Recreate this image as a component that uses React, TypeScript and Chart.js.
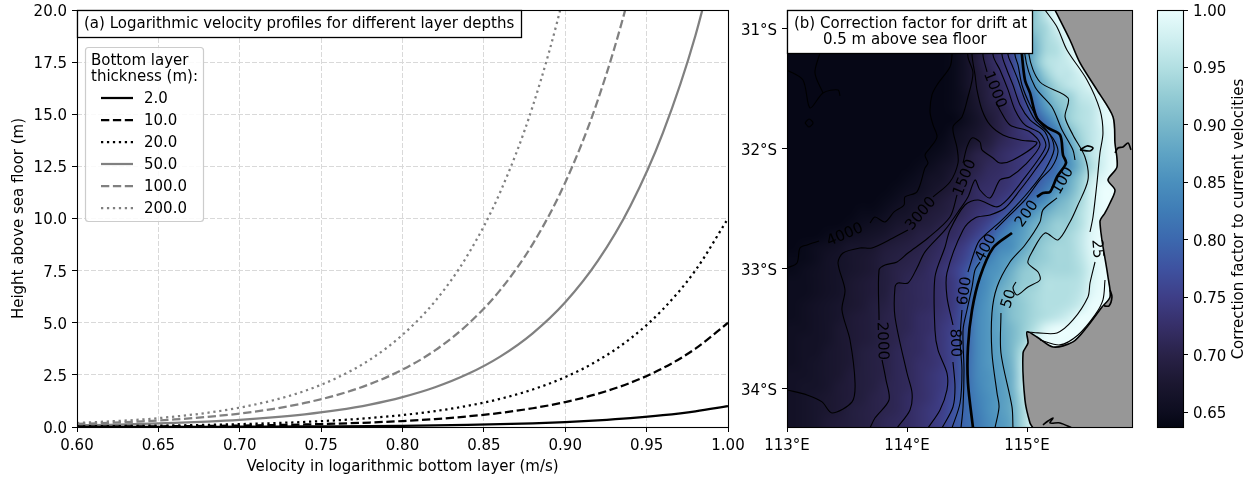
import React, { useEffect, useRef } from "react";
import { Chart, registerables } from "chart.js";

Chart.register(...registerables);

const FONT = '"DejaVu Sans"';
const FS = 15;

// ---------- panel (a) ----------
const velocity = [0.6, 0.62, 0.64, 0.66, 0.68, 0.7, 0.72, 0.74, 0.76, 0.78, 0.8, 0.82, 0.84, 0.86, 0.88, 0.9, 0.92, 0.94, 0.96, 0.98, 1.0];
const h2 = [0.0033, 0.0043, 0.0058, 0.0077, 0.0103, 0.0137, 0.0183, 0.0243, 0.0323, 0.043, 0.0573, 0.0762, 0.1015, 0.1351, 0.1798, 0.2393, 0.3186, 0.424, 0.5644, 0.7513, 1.0];
const h10 = [0.0165, 0.0215, 0.029, 0.0385, 0.0515, 0.0685, 0.0915, 0.1215, 0.1615, 0.215, 0.2865, 0.381, 0.5075, 0.6755, 0.899, 1.1965, 1.593, 2.12, 2.822, 3.7565, 5.0];
const h20 = [0.033, 0.043, 0.058, 0.077, 0.103, 0.137, 0.183, 0.243, 0.323, 0.43, 0.573, 0.762, 1.015, 1.351, 1.798, 2.393, 3.186, 4.24, 5.644, 7.513, 10.0];
const h50 = [0.0825, 0.1075, 0.145, 0.1925, 0.2575, 0.3425, 0.4575, 0.6075, 0.8075, 1.075, 1.4325, 1.905, 2.5375, 3.3775, 4.495, 5.9825, 7.965, 10.6, 14.11, 18.78, 25.0];
const h100 = [0.15, 0.2, 0.27, 0.36, 0.485, 0.645, 0.86, 1.155, 1.54, 2.06, 2.75, 3.675, 4.915, 6.565, 8.775, 11.73, 15.675, 20.95, 27.995, 37.415, 50.0];
const h200 = [0.19, 0.27, 0.36, 0.5, 0.68, 0.93, 1.27, 1.73, 2.37, 3.23, 4.42, 6.03, 8.24, 11.26, 15.38, 21.01, 28.71, 39.22, 53.58, 73.2, 100.0];
const layerNames = ["2.0", "10.0", "20.0", "50.0", "100.0", "200.0"];
const layerValues = [h2, h10, h20, h50, h100, h200];
const layerColors = ["#000000", "#000000", "#000000", "#808080", "#808080", "#808080"];
const layerDashes = [[], [8.3, 3.6], [2.25, 3.7], [], [8.3, 3.6], [2.25, 3.7]];
const velocityTicks = [0.6, 0.65, 0.7, 0.75, 0.8, 0.85, 0.9, 0.95, 1.0];
const heightTicks = [0, 2.5, 5, 7.5, 10, 12.5, 15, 17.5, 20];

// ---------- panel (b) ----------
const lonTicks = [113, 114, 115];
const latTicks = [-31, -32, -33, -34];
const lonRange = [113, 115.875];
const latRange = [-34.317, -30.842];
const lonCells = 30;
const factorGrid = [
  [.64,.64,.64,.64,.64,.64,.64,.64,.64,.64,.64,.64,.64,.64,.645,.66,.68,.71,.73,.76,.88,.92,.96,1,1,1,1,1,1,1],
  [.64,.64,.64,.64,.64,.64,.64,.64,.64,.64,.64,.64,.64,.64,.645,.66,.68,.71,.73,.76,.88,.92,.94,.98,1,1,1,1,1,1],
  [.64,.64,.64,.64,.64,.64,.64,.64,.64,.64,.64,.64,.64,.64,.645,.66,.68,.71,.73,.76,.85,.90,.94,.96,.99,1,1,1,1,1],
  [.64,.64,.64,.64,.64,.64,.64,.64,.64,.64,.64,.64,.64,.64,.645,.66,.68,.71,.73,.76,.83,.89,.94,.95,.98,1,1,1,1,1],
  [.64,.64,.64,.64,.64,.64,.64,.64,.64,.64,.64,.64,.64,.64,.645,.66,.685,.71,.73,.755,.82,.90,.95,.96,.97,1,1,1,1,1],
  [.64,.64,.64,.64,.64,.64,.64,.64,.64,.64,.64,.64,.64,.64,.645,.66,.68,.70,.725,.75,.80,.87,.93,.96,.96,.98,1,1,1,1],
  [.64,.64,.64,.64,.64,.64,.64,.64,.64,.64,.64,.64,.64,.64,.645,.66,.68,.695,.715,.74,.79,.85,.90,.94,.96,.97,.99,1,1,1],
  [.64,.64,.64,.64,.64,.64,.64,.64,.64,.64,.64,.64,.64,.64,.645,.655,.675,.695,.71,.73,.76,.82,.88,.92,.93,.96,.97,1,1,1],
  [.64,.64,.64,.64,.64,.64,.64,.64,.64,.64,.64,.64,.64,.64,.645,.655,.67,.69,.70,.72,.75,.80,.86,.90,.93,.95,.96,.99,1,1],
  [.64,.64,.64,.64,.64,.64,.64,.64,.64,.64,.64,.64,.64,.64,.64,.65,.665,.68,.70,.715,.735,.77,.82,.87,.93,.95,.96,.99,1,1],
  [.64,.64,.64,.64,.64,.64,.64,.64,.64,.64,.64,.64,.64,.64,.65,.66,.67,.685,.70,.72,.735,.75,.79,.83,.90,.94,.96,.98,1,1],
  [.64,.64,.64,.64,.64,.64,.64,.64,.64,.64,.64,.64,.64,.645,.655,.665,.68,.69,.71,.72,.73,.74,.77,.80,.87,.93,.96,.98,1,1],
  [.64,.64,.64,.64,.64,.64,.64,.64,.64,.64,.64,.64,.645,.65,.66,.68,.70,.705,.72,.73,.74,.75,.77,.80,.86,.91,.96,.98,1,1],
  [.64,.64,.64,.64,.64,.64,.64,.64,.64,.64,.64,.645,.65,.66,.67,.69,.70,.715,.72,.73,.74,.76,.78,.81,.85,.90,.95,.98,1,1],
  [.64,.64,.64,.64,.64,.64,.64,.64,.64,.64,.645,.65,.66,.665,.68,.695,.71,.72,.725,.735,.75,.77,.80,.82,.88,.92,.97,.99,1,1],
  [.64,.64,.64,.64,.64,.64,.64,.64,.64,.645,.65,.655,.665,.675,.685,.70,.72,.725,.73,.74,.76,.79,.82,.86,.89,.93,.98,1,1,1],
  [.64,.64,.64,.64,.64,.64,.64,.64,.645,.65,.66,.665,.675,.685,.695,.71,.72,.73,.74,.76,.79,.82,.85,.89,.91,.94,.98,1,1,1],
  [.64,.64,.64,.64,.64,.64,.645,.645,.65,.66,.665,.675,.685,.69,.70,.715,.73,.74,.76,.79,.82,.86,.89,.91,.92,.95,.98,1,1,1],
  [.64,.64,.64,.64,.64,.645,.65,.655,.66,.67,.675,.685,.69,.70,.715,.725,.74,.76,.79,.83,.86,.89,.91,.93,.93,.95,.985,1,1,1],
  [.64,.64,.64,.645,.65,.655,.66,.665,.67,.68,.685,.695,.70,.715,.72,.735,.755,.78,.82,.85,.87,.90,.92,.93,.94,.96,.99,1,1,1],
  [.64,.645,.65,.655,.66,.67,.67,.675,.685,.69,.695,.70,.71,.72,.735,.75,.78,.80,.84,.85,.88,.91,.93,.94,.94,.96,.99,1,1,1],
  [.645,.645,.65,.66,.665,.67,.675,.68,.69,.695,.70,.705,.715,.725,.74,.76,.79,.83,.855,.87,.90,.92,.93,.94,.94,.955,.985,1,1,1],
  [.645,.65,.655,.66,.665,.67,.675,.68,.69,.70,.705,.71,.72,.735,.75,.775,.82,.85,.86,.89,.92,.93,.94,.94,.94,.95,.98,1,1,1],
  [.65,.65,.655,.66,.665,.675,.68,.685,.69,.70,.71,.715,.72,.73,.745,.775,.825,.85,.875,.90,.925,.93,.95,.95,.95,.955,.985,1,1,1],
  [.65,.65,.655,.66,.665,.675,.68,.685,.69,.705,.71,.715,.72,.73,.745,.775,.83,.855,.89,.91,.93,.94,.95,.95,.95,.96,.99,1,1,1],
  [.65,.655,.66,.665,.67,.675,.68,.69,.695,.705,.71,.715,.72,.73,.745,.78,.835,.86,.885,.91,.925,.94,.95,.95,.955,.97,1,1,1,1],
  [.65,.655,.66,.665,.67,.68,.685,.69,.70,.705,.71,.72,.725,.735,.75,.785,.84,.86,.88,.91,.925,.94,.95,.96,.975,1,1,1,1,1],
  [.655,.655,.66,.665,.675,.68,.685,.69,.70,.705,.71,.72,.725,.74,.755,.785,.84,.86,.88,.90,.925,.95,.985,1,1,1,1,1,1,1],
  [.655,.66,.66,.665,.675,.68,.685,.69,.70,.705,.715,.72,.73,.74,.76,.79,.84,.86,.875,.90,.93,.98,1,1,1,1,1,1,1,1],
  [.655,.66,.66,.67,.675,.68,.69,.695,.70,.71,.715,.72,.73,.74,.76,.79,.84,.86,.875,.90,.95,1,1,1,1,1,1,1,1,1],
  [.655,.66,.665,.67,.675,.68,.69,.695,.70,.71,.715,.725,.73,.74,.76,.795,.84,.86,.87,.895,.96,1,1,1,1,1,1,1,1,1],
  [.66,.66,.665,.67,.675,.685,.69,.695,.70,.71,.715,.725,.735,.745,.76,.795,.84,.855,.87,.89,.96,1,1,1,1,1,1,1,1,1],
  [.66,.665,.665,.67,.68,.685,.69,.695,.705,.71,.715,.725,.735,.745,.765,.80,.835,.855,.865,.89,.96,1,1,1,1,1,1,1,1,1],
  [.66,.665,.67,.675,.68,.685,.69,.70,.705,.71,.72,.725,.735,.75,.77,.80,.83,.85,.865,.885,.95,1,1,1,1,1,1,1,1,1],
  [.66,.665,.67,.675,.68,.69,.695,.70,.705,.71,.72,.73,.74,.75,.775,.80,.825,.85,.865,.885,.94,.99,1,1,1,1,1,1,1,1],
  [.66,.665,.67,.68,.685,.69,.695,.70,.71,.715,.72,.73,.74,.755,.78,.80,.82,.845,.86,.88,.94,.99,1,1,1,1,1,1,1,1],
];

// contour polylines as [lon, lat]
const c5000a = [[113,-31.342],[113.133,-31.425],[113.192,-31.658],[113.3,-31.533],[113.425,-31.508],[113.442,-31.558]];
const c5000b = [[113.275,-31.2],[113.233,-31.367],[113.3,-31.533]];
const c5000c = [[113.15,-31.783],[113.183,-31.75],[113.217,-31.783],[113.183,-31.817],[113.15,-31.783]];
const c4000a = [[113,-32.992],[113.083,-32.95],[113.108,-32.825],[113.167,-32.8],[113.267,-32.767]];
const c4000b = [[113.692,-32.617],[113.733,-32.567],[113.817,-32.608],[113.892,-32.525],[113.975,-32.467],[113.983,-32.4],[114.083,-32.358],[114.15,-32.158],[114.175,-32.117],[114.15,-32.05],[114.192,-31.992],[114.25,-31.9],[114.217,-31.8],[114.192,-31.692],[114.208,-31.55],[114.25,-31.467],[114.358,-31.317],[114.375,-31.217],[114.383,-30.842]];
const c3000a = [[113,-34.008],[113.167,-34.05],[113.292,-34.108],[113.375,-34.2],[113.542,-34.108],[113.567,-33.95],[113.525,-33.592],[113.458,-33.342],[113.483,-33.175],[113.425,-32.95],[113.467,-32.867],[113.608,-32.825],[113.708,-32.825],[113.883,-32.742],[114.008,-32.675]];
const c3000b = [[114.217,-32.4],[114.358,-32.275],[114.425,-32.117],[114.417,-31.992],[114.383,-31.817],[114.458,-31.733],[114.508,-31.567],[114.55,-31.367],[114.508,-31.233],[114.483,-30.842]];
const c2000a = [[113.692,-34.325],[113.733,-34.242],[113.85,-34.092],[113.825,-33.925],[113.792,-33.758]];
const c2000b = [[113.767,-33.425],[113.767,-33.008],[113.817,-32.967],[113.917,-32.942],[114.008,-32.867],[114.175,-32.742],[114.358,-32.567],[114.417,-32.383]];
const c2000c = [[114.467,-32.117],[114.5,-31.983],[114.542,-31.908],[114.608,-31.942],[114.625,-32.008],[114.717,-32.075],[114.775,-32.117],[114.883,-32.092],[115.083,-31.95],[114.942,-31.925],[114.8,-31.883],[114.692,-31.8],[114.625,-31.675],[114.583,-31.508],[114.567,-31.383],[114.542,-31.217],[114.542,-30.842]];
const c1500a = [[113.917,-34.325],[114.025,-34.175],[114.042,-34.033],[114,-33.867],[113.9,-33.4],[113.9,-33.15],[113.925,-33.117],[114.008,-33.117],[114.083,-32.992],[114.15,-32.858],[114.317,-32.675],[114.425,-32.525],[114.508,-32.4],[114.567,-32.258],[114.608,-32.342],[114.692,-32.408],[114.775,-32.258],[114.858,-32.233],[114.983,-32.133],[115.108,-31.967],[115.025,-31.858],[114.858,-31.8],[114.775,-31.675],[114.742,-31.608]];
const c1500b = [[114.667,-31.358],[114.633,-31.217],[114.633,-30.842]];
const c1000 = [[114.175,-34.325],[114.275,-34.175],[114.333,-34.008],[114.333,-33.867],[114.258,-33.675],[114.233,-33.508],[114.233,-33.067],[114.317,-32.817],[114.358,-32.675],[114.483,-32.467],[114.592,-32.425],[114.75,-32.483],[114.833,-32.425],[114.967,-32.258],[115.108,-32.067],[115.158,-31.967],[115.108,-31.867],[114.983,-31.8],[114.9,-31.675],[114.842,-31.508],[114.775,-31.342],[114.717,-31.217],[114.717,-30.842]];
const c800a = [[114.292,-34.325],[114.383,-34.15],[114.4,-33.983],[114.383,-33.775]];
const c800b = [[114.383,-33.467],[114.333,-33.233],[114.333,-33.033],[114.467,-32.675],[114.567,-32.575],[114.692,-32.55],[114.817,-32.492],[114.942,-32.342],[115.067,-32.175],[115.183,-31.992],[115.15,-31.858],[115.025,-31.758],[114.942,-31.633],[114.883,-31.467],[114.833,-31.342],[114.792,-31.217],[114.775,-30.842]];
const c600a = [[114.375,-34.325],[114.442,-34.117],[114.458,-33.842],[114.442,-33.592],[114.458,-33.342]];
const c600b = [[114.508,-33.025],[114.567,-32.842],[114.608,-32.758],[114.775,-32.608],[114.9,-32.483],[115.025,-32.342],[115.15,-32.175],[115.225,-32.008],[115.192,-31.883],[115.067,-31.758],[114.983,-31.592],[114.925,-31.425],[114.875,-31.3],[114.842,-31.217],[114.825,-30.842]];
const c400a = [[114.45,-34.325],[114.467,-34.15],[114.475,-33.842],[114.467,-33.508],[114.5,-33.342],[114.542,-33.15],[114.567,-33.008],[114.608,-32.942]];
const c400b = [[114.733,-32.675],[114.858,-32.55],[114.983,-32.425],[115.108,-32.258],[115.208,-32.15],[115.258,-32.025],[115.225,-31.925],[115.108,-31.775],[115.025,-31.633],[114.958,-31.467],[114.925,-31.3],[114.9,-31.217],[114.875,-30.842]];
const c200a = [[114.925,-30.842],[114.958,-31.217],[114.983,-31.425],[115.025,-31.533],[115.083,-31.742],[115.175,-31.825],[115.275,-31.883],[115.3,-32.05],[115.325,-32.117],[115.25,-32.233],[115.192,-32.358],[115.133,-32.367],[115.083,-32.4]];
const c200b = [[114.875,-32.7],[114.717,-32.825],[114.608,-33.067],[114.542,-33.342],[114.508,-33.65],[114.508,-33.95],[114.55,-34.325]];
const c100a = [[114.983,-30.842],[114.983,-31.217],[115.067,-31.483],[115.208,-31.65],[115.292,-31.842],[115.383,-32.008],[115.4,-32.092]];
const c100b = [[115.25,-32.408],[115.133,-32.508],[115.108,-32.608],[114.983,-32.8],[114.858,-32.942],[114.75,-33.15],[114.708,-33.367],[114.708,-33.7],[114.75,-34.033],[114.767,-34.15],[114.733,-34.325]];
const c50a = [[115.025,-30.842],[115.017,-31.217],[115.108,-31.442],[115.342,-31.575],[115.317,-31.733],[115.383,-31.883],[115.483,-32.067],[115.508,-32.258],[115.417,-32.483],[115.358,-32.608],[115.258,-32.758],[115.15,-32.7],[115.042,-32.858],[115.008,-32.95],[115.092,-33.025],[115.108,-33.092],[115.008,-33.15],[114.917,-33.217],[114.883,-33.158],[114.908,-33.108]];
const c50b = [[114.783,-33.367],[114.783,-33.7],[114.875,-34.15],[114.883,-34.325]];
const c25a = [[115.15,-30.842],[115.25,-30.983],[115.333,-31.175],[115.5,-31.425],[115.608,-31.675],[115.633,-31.867],[115.608,-32.033],[115.583,-32.283],[115.55,-32.567],[115.525,-32.692]];
const c25b = [[115.567,-32.942],[115.525,-33.117],[115.508,-33.233],[115.383,-33.425],[115.25,-33.533],[115.092,-33.533],[115.008,-33.525]];
const c10 = [[115.108,-33.592],[115.275,-33.633],[115.425,-33.55],[115.567,-33.383],[115.633,-33.258],[115.65,-33.092]];
const thinContours = [c5000a,c5000b,c5000c,c4000a,c4000b,c3000a,c3000b,c2000a,c2000b,c2000c,c1500a,c1500b,c1000,c800a,c800b,c600a,c600b,c400a,c400b,c100a,c100b,c50a,c50b,c25a,c25b,c10];
const thickContours = [c200a,c200b];

const coastline = [[115.233,-30.842],[115.358,-31.092],[115.442,-31.283],[115.583,-31.508],[115.717,-31.733],[115.733,-31.95],[115.75,-32.15],[115.675,-32.258],[115.733,-32.342],[115.692,-32.45],[115.65,-32.533],[115.608,-32.608],[115.675,-33.067],[115.692,-33.233],[115.625,-33.317],[115.5,-33.483],[115.383,-33.608],[115.217,-33.65],[115.083,-33.567],[115,-33.525],[115.008,-33.617],[114.967,-33.7],[114.983,-34.092],[115.025,-34.283],[115.05,-34.325]];
const landCorners = [[115.05,-34.4],[115.9,-34.4],[115.9,-30.8],[115.233,-30.8]];
const islandCoast = [[115.442,-32.008],[115.5,-31.975],[115.55,-31.992],[115.525,-32.017],[115.442,-32.008]];
const perthCoast = [[115.733,-32.033],[115.758,-31.992],[115.8,-31.983],[115.842,-31.95],[115.867,-32.008]];
const capeCoast = [[115.133,-34.3],[115.175,-34.267],[115.217,-34.242],[115.192,-34.283],[115.275,-34.283],[115.375,-34.325]];
const bumpCoast = [[115.642,-33.308],[115.683,-33.308],[115.708,-33.233],[115.692,-33.175]];
const coastParts = [coastline, islandCoast, perthCoast, capeCoast, bumpCoast];

// contour labels: text, lon, lat, angle in degrees
const contourLabels: [string, number, number, number][] = [
  ["1000", 114.73, -31.5, 68],
  ["1500", 114.483, -32.233, -68],
  ["3000", 114.117, -32.533, -50],
  ["4000", 113.483, -32.708, -23],
  ["2000", 113.792, -33.592, 88],
  ["800", 114.4, -33.608, 88],
  ["600", 114.483, -33.175, -82],
  ["400", 114.658, -32.817, -62],
  ["200", 115.0, -32.533, -55],
  ["100", 115.3, -32.258, -60],
  ["50", 114.85, -33.242, -72],
  ["25", 115.583, -32.825, 85],
];

// ---------- colour bar ----------
const factorTicks = [0.65, 0.7, 0.75, 0.8, 0.85, 0.9, 0.95, 1.0];
const factorMin = 0.6373;
const factorMax = 1.0;
const iceValues = [0.6373, 0.65, 0.675, 0.7, 0.725, 0.75, 0.775, 0.8, 0.825, 0.85, 0.875, 0.9, 0.925, 0.95, 0.975, 1.0];
const iceColors = [[4,6,19],[13,13,31],[27,23,48],[41,34,72],[54,47,104],[62,62,135],[62,82,160],[60,104,174],[63,124,182],[74,143,189],[94,163,196],[120,183,202],[147,203,212],[178,223,226],[207,239,240],[234,253,253]];

function iceColor(v: number) {
  if (v <= iceValues[0]) return iceColors[0];
  for (let i = 1; i < iceValues.length; i++) {
    if (v <= iceValues[i]) {
      const t = (v - iceValues[i - 1]) / (iceValues[i] - iceValues[i - 1]);
      return iceColors[i].map((c, k) => c + (iceColors[i - 1][k] - c) * (1 - t));
    }
  }
  return iceColors[iceColors.length - 1];
}

function toPts(list: number[][]) {
  return list.map(([x, y]) => ({ x, y }));
}

function frame(chart: any) {
  const { ctx, chartArea: a } = chart;
  ctx.save();
  ctx.strokeStyle = "#000";
  ctx.lineWidth = 1.1;
  ctx.setLineDash([]);
  ctx.strokeRect(Math.round(a.left) + 0.5, Math.round(a.top) + 0.5, Math.round(a.right - a.left), Math.round(a.bottom - a.top));
  ctx.restore();
}

function label(ctx: any, text: string, x: number, y: number, angle = 0, align = "left") {
  ctx.save();
  ctx.translate(x, y + 1);
  ctx.rotate((angle * Math.PI) / 180);
  ctx.font = `${FS}px ${FONT}`;
  ctx.fillStyle = "#000";
  ctx.textAlign = align;
  ctx.textBaseline = "middle";
  ctx.fillText(text, 0, 0);
  ctx.restore();
}

const panelAPlugin = {
  id: "panelA",
  afterDatasetsDraw(chart: any) {
    const { ctx, chartArea: a } = chart;
    frame(chart);
    ctx.save();
    // legend
    ctx.beginPath();
    ctx.roundRect(85.5, 47.5, 118, 174, 3);
    ctx.fillStyle = "rgba(255,255,255,0.85)";
    ctx.fill();
    ctx.strokeStyle = "#cccccc";
    ctx.lineWidth = 1.2;
    ctx.stroke();
    label(ctx, "Bottom layer", 91, 60);
    label(ctx, "thickness (m):", 91, 76.5);
    const rowY = [98, 120, 142, 164, 186, 208];
    chart.data.datasets.forEach((d: any, i: number) => {
      ctx.beginPath();
      ctx.strokeStyle = d.borderColor;
      ctx.lineWidth = d.borderWidth;
      ctx.setLineDash(d.borderDash);
      ctx.moveTo(101, rowY[i]);
      ctx.lineTo(133, rowY[i]);
      ctx.stroke();
      ctx.setLineDash([]);
      label(ctx, d.label, 144, rowY[i]);
    });
    // panel title box
    ctx.fillStyle = "#fff";
    ctx.fillRect(a.left, a.top, 444, 27);
    ctx.strokeStyle = "#000";
    ctx.lineWidth = 1.3;
    ctx.strokeRect(a.left + 0.5, a.top + 0.5, 444, 27);
    label(ctx, "(a) Logarithmic velocity profiles for different layer depths", 84, 23.5);
    ctx.restore();
  },
};

const panelBPlugin = {
  id: "panelB",
  beforeDatasetsDraw(chart: any) {
    const { ctx, chartArea: a, scales } = chart;
    const rows = factorGrid.length;
    const off = document.createElement("canvas");
    off.width = lonCells;
    off.height = rows;
    const oc = off.getContext("2d") as CanvasRenderingContext2D;
    const img = oc.createImageData(lonCells, rows);
    factorGrid.forEach((row, j) =>
      row.forEach((v, i) => {
        const c = iceColor(v);
        const p = (j * lonCells + i) * 4;
        img.data[p] = c[0];
        img.data[p + 1] = c[1];
        img.data[p + 2] = c[2];
        img.data[p + 3] = 255;
      })
    );
    oc.putImageData(img, 0, 0);
    const x0 = scales.x.getPixelForValue(lonRange[0]);
    const x1 = scales.x.getPixelForValue(lonRange[1]);
    const y0 = scales.y.getPixelForValue(latRange[1]);
    const y1 = scales.y.getPixelForValue(latRange[0]);
    ctx.save();
    ctx.beginPath();
    ctx.rect(a.left, a.top, a.right - a.left, a.bottom - a.top);
    ctx.clip();
    ctx.imageSmoothingEnabled = true;
    ctx.imageSmoothingQuality = "high";
    ctx.drawImage(off, x0, y0, x1 - x0, y1 - y0);
    // land
    ctx.beginPath();
    [...coastline, ...landCorners].forEach(([lon, lat], i) => {
      const px = scales.x.getPixelForValue(lon);
      const py = scales.y.getPixelForValue(lat);
      if (i === 0) ctx.moveTo(px, py);
      else ctx.lineTo(px, py);
    });
    ctx.closePath();
    ctx.fillStyle = "#979797";
    ctx.fill();
    ctx.restore();
  },
  afterDatasetsDraw(chart: any) {
    const { ctx, chartArea: a, scales } = chart;
    contourLabels.forEach(([t, lon, lat, ang]) => {
      label(ctx, t, scales.x.getPixelForValue(lon), scales.y.getPixelForValue(lat), ang, "center");
    });
    frame(chart);
    ctx.save();
    ctx.fillStyle = "#fff";
    ctx.fillRect(a.left, a.top, 245, 43);
    ctx.strokeStyle = "#000";
    ctx.lineWidth = 1.3;
    ctx.strokeRect(a.left + 0.5, a.top + 0.5, 245, 43);
    label(ctx, "(b) Correction factor for drift at", a.left + 7, 23);
    label(ctx, "0.5 m above sea floor", a.left + 36, 39.5);
    ctx.restore();
  },
};

const colorbarPlugin = {
  id: "colorbarFrame",
  afterDatasetsDraw(chart: any) {
    frame(chart);
    label(chart.ctx, "Correction factor to current velocities", chart.chartArea.right + 56, 218, -90, "center");
  },
};

function fixedSize(prop: "width" | "height", n: number) {
  return (scale: any) => {
    scale[prop] = n;
    scale.paddingTop = 0;
    scale.paddingBottom = 0;
    scale.paddingLeft = 0;
    scale.paddingRight = 0;
  };
}

function setTicks(values: number[]) {
  return (scale: any) => {
    scale.ticks = values.map((value) => ({ value }));
  };
}

const tickFont = { family: FONT, size: FS };

export default function App() {
  const aRef = useRef<HTMLCanvasElement>(null);
  const bRef = useRef<HTMLCanvasElement>(null);
  const cRef = useRef<HTMLCanvasElement>(null);

  useEffect(() => {
    Chart.defaults.font.family = FONT;
    Chart.defaults.font.size = FS;
    Chart.defaults.color = "#000";

    const chartA = new Chart(aRef.current as any, {
      type: "scatter",
      data: {
        datasets: layerNames.map((name, i) => ({
          label: name,
          data: velocity.map((x, k) => ({ x, y: layerValues[i][k] })),
          showLine: true,
          pointRadius: 0,
          borderColor: layerColors[i],
          borderDash: layerDashes[i],
          borderWidth: 2.25,
          cubicInterpolationMode: "monotone",
        })),
      },
      options: {
        animation: false,
        responsive: false,
        layout: { autoPadding: false, padding: { left: 0, top: 10, right: 22, bottom: 0 } },
        plugins: { legend: { display: false }, tooltip: { enabled: false } },
        scales: {
          x: {
            type: "linear",
            min: 0.6,
            max: 1.0,
            afterFit: fixedSize("height", 50),
            afterBuildTicks: setTicks(velocityTicks),
            grid: { color: "#d9d9d9", lineWidth: 1, tickColor: "#000", tickLength: 5 },
            border: { display: false, dash: [5, 2] },
            ticks: { font: tickFont, padding: 5, maxRotation: 0, autoSkip: false, callback: (v: any) => Number(v).toFixed(2) },
            title: { display: true, text: "Velocity in logarithmic bottom layer (m/s)", font: tickFont, padding: 1 },
          },
          y: {
            type: "linear",
            min: 0,
            max: 20,
            afterFit: fixedSize("width", 77),
            afterBuildTicks: setTicks(heightTicks),
            grid: { color: "#d9d9d9", lineWidth: 1, tickColor: "#000", tickLength: 5 },
            border: { display: false, dash: [5, 2] },
            ticks: { font: tickFont, padding: 5, labelOffset: 2, autoSkip: false, callback: (v: any) => Number(v).toFixed(1) },
            title: { display: true, text: "Height above sea floor (m)", font: tickFont, padding: 10 },
          },
        },
      } as any,
      plugins: [panelAPlugin],
    } as any);

    const lineSet = (pts: number[][], width: number) => ({
      data: toPts(pts),
      showLine: true,
      pointRadius: 0,
      borderColor: "#000",
      borderWidth: width,
      tension: 0.3,
    });

    const chartB = new Chart(bRef.current as any, {
      type: "scatter",
      data: {
        datasets: [
          ...thinContours.map((c) => lineSet(c, 1.1)),
          ...thickContours.map((c) => lineSet(c, 2.7)),
          ...coastParts.map((c) => lineSet(c, 1.6)),
        ],
      },
      options: {
        animation: false,
        responsive: false,
        layout: { autoPadding: false, padding: { left: 0, top: 10, right: 18, bottom: 0 } },
        plugins: { legend: { display: false }, tooltip: { enabled: false } },
        scales: {
          x: {
            type: "linear",
            min: lonRange[0],
            max: lonRange[1],
            afterFit: fixedSize("height", 50),
            afterBuildTicks: setTicks(lonTicks),
            grid: { drawOnChartArea: false, tickColor: "#000", tickLength: 5 },
            border: { display: false },
            ticks: { font: tickFont, padding: 5, maxRotation: 0, autoSkip: false, callback: (v: any) => `${v}°E` },
          },
          y: {
            type: "linear",
            min: latRange[0],
            max: latRange[1],
            afterFit: fixedSize("width", 47),
            afterBuildTicks: setTicks(latTicks),
            grid: { drawOnChartArea: false, tickColor: "#000", tickLength: 5 },
            border: { display: false },
            ticks: { font: tickFont, padding: 5, labelOffset: 2, autoSkip: false, callback: (v: any) => `${Math.abs(v)}°S` },
          },
        },
      } as any,
      plugins: [panelBPlugin],
    } as any);

    const chartC = new Chart(cRef.current as any, {
      type: "bar",
      data: {
        labels: ["factor"],
        datasets: [
          {
            data: [[factorMin, factorMax]],
            barPercentage: 1,
            categoryPercentage: 1,
            backgroundColor: (ctx: any) => {
              const { chart } = ctx;
              if (!chart.chartArea) return "#000";
              const yS = chart.scales.y;
              const g = chart.ctx.createLinearGradient(0, yS.getPixelForValue(factorMin), 0, yS.getPixelForValue(factorMax));
              iceValues.forEach((v, i) => {
                const c = iceColors[i];
                g.addColorStop((v - factorMin) / (factorMax - factorMin), `rgb(${c[0]},${c[1]},${c[2]})`);
              });
              return g;
            },
          },
        ],
      },
      options: {
        animation: false,
        responsive: false,
        layout: { autoPadding: false, padding: { left: 7, top: 10, right: 0, bottom: 50 } },
        plugins: { legend: { display: false }, tooltip: { enabled: false } },
        scales: {
          x: { display: false },
          y: {
            position: "right",
            min: factorMin,
            max: factorMax,
            afterFit: fixedSize("width", 72),
            afterBuildTicks: setTicks(factorTicks),
            grid: { drawOnChartArea: false, tickColor: "#000", tickLength: 5 },
            border: { display: false },
            ticks: { font: tickFont, padding: 5, labelOffset: 2, autoSkip: false, callback: (v: any) => Number(v).toFixed(2) },
          },
        },
      } as any,
      plugins: [colorbarPlugin],
    } as any);

    return () => {
      chartA.destroy();
      chartB.destroy();
      chartC.destroy();
    };
  }, []);

  const abs = (left: number, width: number): React.CSSProperties => ({ position: "absolute", left, top: 0, width, height: 477 });
  return (
    <div style={{ position: "absolute", left: 0, top: 0, width: 1255, height: 477, background: "#fff", overflow: "hidden" }}>
      <canvas ref={aRef} width={750} height={477} style={abs(0, 750)} />
      <canvas ref={bRef} width={410} height={477} style={abs(740, 410)} />
      <canvas ref={cRef} width={105} height={477} style={abs(1150, 105)} />
    </div>
  );
}
